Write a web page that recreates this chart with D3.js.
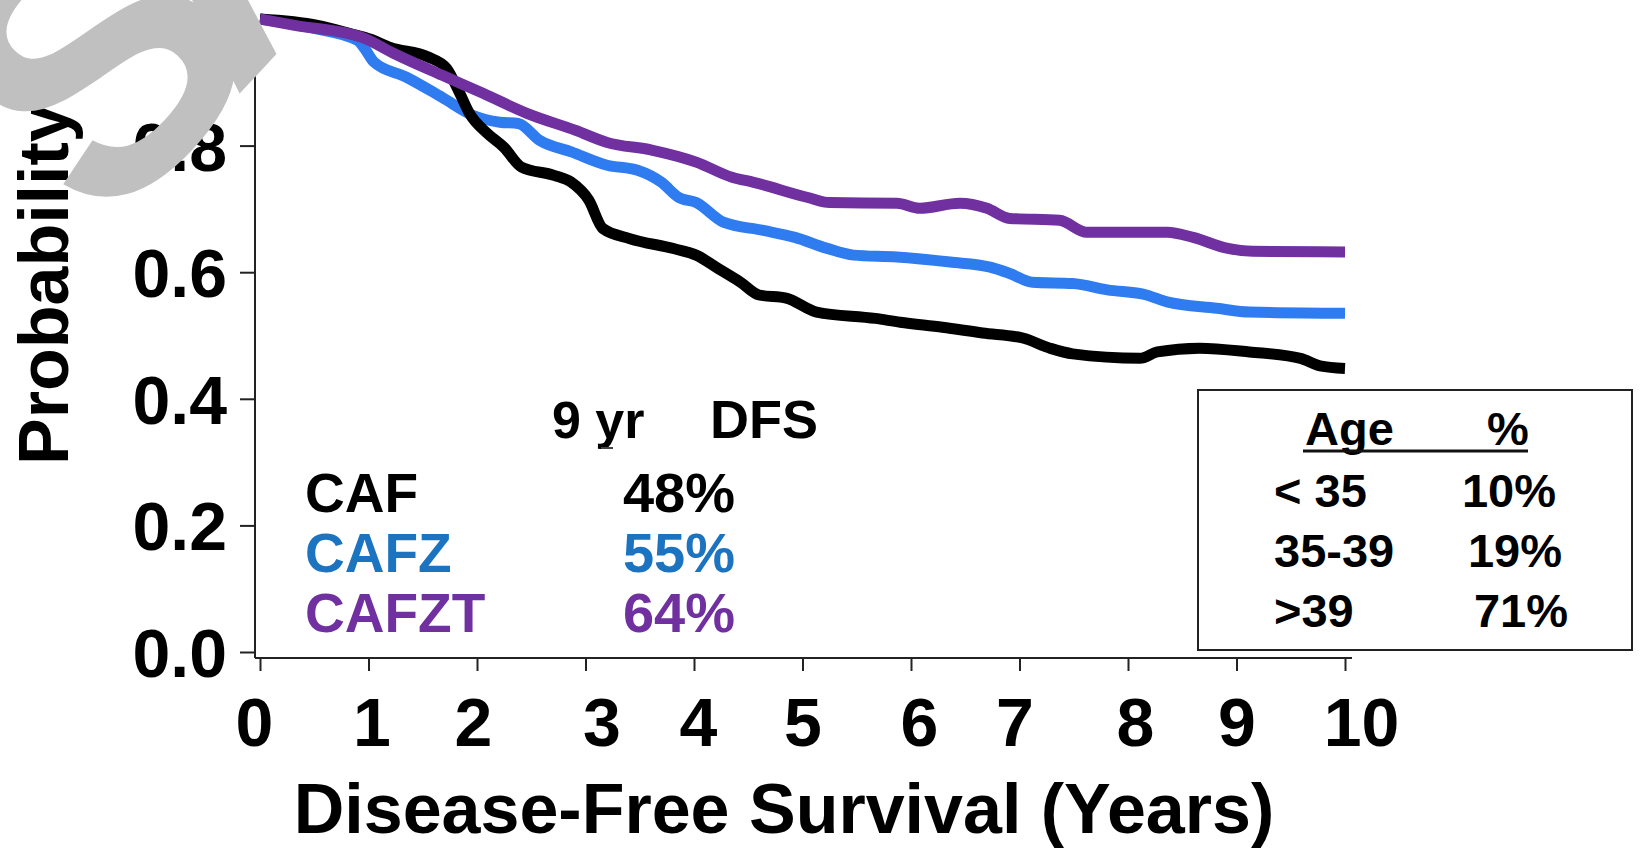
<!DOCTYPE html>
<html>
<head>
<meta charset="utf-8">
<script src="https://cdn.jsdelivr.net/npm/d3@7"></script>
<style>
  body { margin: 0; background: #fff; }
  svg { display: block; }
  text { font-family: "Liberation Sans", Arial, sans-serif; font-weight: bold; }
</style>
</head>
<body>
<svg id="chart" width="1643" height="852"></svg>
<script>
// Kaplan-Meier curves (years, probability)
const cafYears = [0, 0.53, 0.83, 1.02, 1.2, 1.55, 1.72, 1.84, 1.93, 2.09, 2.25, 2.41, 2.71, 2.87, 3.03, 3.16, 3.41, 3.82, 4.02, 4.23, 4.43, 4.6, 4.85, 5.13, 5.67, 5.9, 6.29, 6.66, 7.03, 7.28, 7.49, 8.11, 8.27, 8.66, 9.12, 9.59, 9.77, 10];
const cafProb  = [1, 0.99, 0.977, 0.968, 0.955, 0.94, 0.922, 0.883, 0.851, 0.82, 0.797, 0.766, 0.753, 0.742, 0.714, 0.669, 0.653, 0.637, 0.627, 0.605, 0.584, 0.564, 0.559, 0.537, 0.527, 0.521, 0.513, 0.504, 0.496, 0.48, 0.471, 0.464, 0.474, 0.48, 0.474, 0.464, 0.452, 0.448];

const cafzYears = [0, 0.5, 0.9, 0.97, 1.05, 1.35, 1.68, 1.96, 2.21, 2.38, 2.58, 2.87, 3.2, 3.48, 3.7, 3.86, 4.02, 4.27, 4.64, 4.93, 5.22, 5.47, 5.87, 6.36, 6.73, 6.91, 7.12, 7.49, 7.81, 8.17, 8.36, 8.82, 9.12, 10];
const cafzProb  = [1, 0.985, 0.966, 0.952, 0.932, 0.908, 0.876, 0.848, 0.837, 0.835, 0.808, 0.79, 0.769, 0.761, 0.742, 0.718, 0.71, 0.679, 0.666, 0.655, 0.638, 0.627, 0.624, 0.616, 0.608, 0.598, 0.584, 0.582, 0.572, 0.564, 0.553, 0.543, 0.537, 0.535];

const cafztYears = [0, 0.32, 0.94, 1.23, 1.68, 2.05, 2.46, 2.91, 3.2, 3.61, 4.02, 4.35, 4.55, 5.05, 5.25, 5.87, 6.08, 6.45, 6.7, 6.91, 7.37, 7.62, 8.36, 8.6, 8.91, 9.15, 10];
const cafztProb  = [1, 0.99, 0.971, 0.946, 0.911, 0.883, 0.851, 0.824, 0.805, 0.793, 0.774, 0.75, 0.742, 0.718, 0.71, 0.709, 0.701, 0.709, 0.701, 0.685, 0.682, 0.663, 0.663, 0.655, 0.638, 0.633, 0.632];

const arms = ["CAF", "CAFZ", "CAFZT"];
const dfs9yr = ["48%", "55%", "64%"];

const ageGroups = ["< 35", "35-39", ">39"];
const agePct = ["10%", "19%", "71%"];

const xTicks = [0, 1, 2, 3, 4, 5, 6, 7, 8, 9, 10];
const yTicks = [0, 0.2, 0.4, 0.6, 0.8, 1.0];

// styling / layout
const lineColors = ["#000000", "#2f7cf0", "#7030a0"];
const textColors = ["#000000", "#1c74c0", "#7030a0"];
const xLabelNudge = [-6, 3, -4, 16, 4, 0, 8, -5, 7, 0, 16]; // labels sit a bit off their ticks in the original

const svg = d3.select("#chart");

const x = d3.scaleLinear().domain([0, 10]).range([260, 1345]);
const y = d3.scaleLinear().domain([0, 1]).range([652, 19]);

// axes lines
svg.append("line")
    .attr("x1", 255).attr("x2", 255).attr("y1", 22).attr("y2", 658)
    .attr("stroke", "#222").attr("stroke-width", 2);
svg.append("line")
    .attr("x1", 255).attr("x2", 1352).attr("y1", 658).attr("y2", 658)
    .attr("stroke", "#222").attr("stroke-width", 2);

// y axis ticks
const yAxis = svg.append("g")
    .attr("transform", "translate(255,0)")
    .call(d3.axisLeft(y).tickValues(yTicks).tickSize(15).tickPadding(13).tickFormat(d3.format(".1f")));
yAxis.select(".domain").remove();
yAxis.selectAll("line").attr("stroke", "#222").attr("stroke-width", 2);
yAxis.selectAll("text")
    .attr("fill", "#000")
    .style("font-size", "68px")
    .attr("dy", "0.36em");

// x axis ticks
const xAxis = svg.append("g")
    .attr("transform", "translate(0,658)")
    .call(d3.axisBottom(x).tickValues(xTicks).tickSize(13).tickPadding(27).tickFormat(d3.format("d")));
xAxis.select(".domain").remove();
xAxis.selectAll("line").attr("stroke", "#222").attr("stroke-width", 2);
xAxis.selectAll("text")
    .attr("fill", "#000")
    .style("font-size", "68px")
    .attr("dx", (d, i) => xLabelNudge[i]);

// axis titles
svg.append("text")
    .attr("x", 784).attr("y", 833)
    .attr("text-anchor", "middle")
    .style("font-size", "70px")
    .text("Disease-Free Survival (Years)");

svg.append("text")
    .attr("transform", "translate(68,465) rotate(-90)")
    .style("font-size", "70px")
    .text("Probability");

// survival curves, drawn blue, black, purple so purple sits on top
const curves = [
    { years: cafzYears, prob: cafzProb, color: lineColors[1] },
    { years: cafYears, prob: cafProb, color: lineColors[0] },
    { years: cafztYears, prob: cafztProb, color: lineColors[2] }
];

const line = d3.line()
    .x(d => x(d[0]))
    .y(d => y(d[1]))
    .curve(d3.curveMonotoneX);

svg.append("g")
    .selectAll("path")
    .data(curves)
    .enter()
    .append("path")
    .attr("d", c => line(c.years.map((t, i) => [t, c.prob[i]])))
    .attr("fill", "none")
    .attr("stroke", c => c.color)
    .attr("stroke-width", 11)
    .attr("stroke-linejoin", "round")
    .attr("stroke-linecap", "butt");

// 9 year DFS legend
svg.append("text").attr("x", 552).attr("y", 438).style("font-size", "52px").text("9 yr");
svg.append("text").attr("x", 710).attr("y", 438).style("font-size", "54px").text("DFS");
svg.append("line")
    .attr("x1", 601).attr("x2", 613).attr("y1", 448).attr("y2", 448)
    .attr("stroke", "#444").attr("stroke-width", 2);

const legend = svg.append("g");
legend.selectAll("text.arm")
    .data(arms)
    .enter()
    .append("text")
    .attr("class", "arm")
    .attr("x", 305)
    .attr("y", (d, i) => 512 + i * 60)
    .attr("fill", (d, i) => textColors[i])
    .style("font-size", "55px")
    .text(d => d);
legend.selectAll("text.pct")
    .data(dfs9yr)
    .enter()
    .append("text")
    .attr("class", "pct")
    .attr("x", 735)
    .attr("y", (d, i) => 512 + i * 60)
    .attr("text-anchor", "end")
    .attr("fill", (d, i) => textColors[i])
    .style("font-size", "56px")
    .text(d => d);

// age table
const box = svg.append("g");
box.append("rect")
    .attr("x", 1198).attr("y", 390).attr("width", 434).attr("height", 260)
    .attr("fill", "#fff").attr("stroke", "#222").attr("stroke-width", 2);
box.append("text").attr("x", 1305).attr("y", 445).style("font-size", "47px").text("Age");
box.append("text").attr("x", 1487).attr("y", 445).style("font-size", "47px").text("%");
box.append("line")
    .attr("x1", 1303).attr("x2", 1528).attr("y1", 451).attr("y2", 451)
    .attr("stroke", "#111").attr("stroke-width", 3);
box.selectAll("text.age")
    .data(ageGroups)
    .enter()
    .append("text")
    .attr("class", "age")
    .attr("x", 1274)
    .attr("y", (d, i) => 507 + i * 60)
    .style("font-size", "47px")
    .text(d => d);
box.selectAll("text.agepct")
    .data(agePct)
    .enter()
    .append("text")
    .attr("class", "agepct")
    .attr("x", (d, i) => 1556 + i * 6)
    .attr("y", (d, i) => 507 + i * 60)
    .attr("text-anchor", "end")
    .style("font-size", "47px")
    .text(d => d);

// grey watermark lettering, mostly off the top-left corner
svg.append("text")
    .attr("transform", "translate(105,238) rotate(-47)")
    .attr("fill", "#c0c0c0")
    .style("font-size", "375px")
    .style("letter-spacing", "-62px")
    .text("SAMPLE");
</script>
</body>
</html>
